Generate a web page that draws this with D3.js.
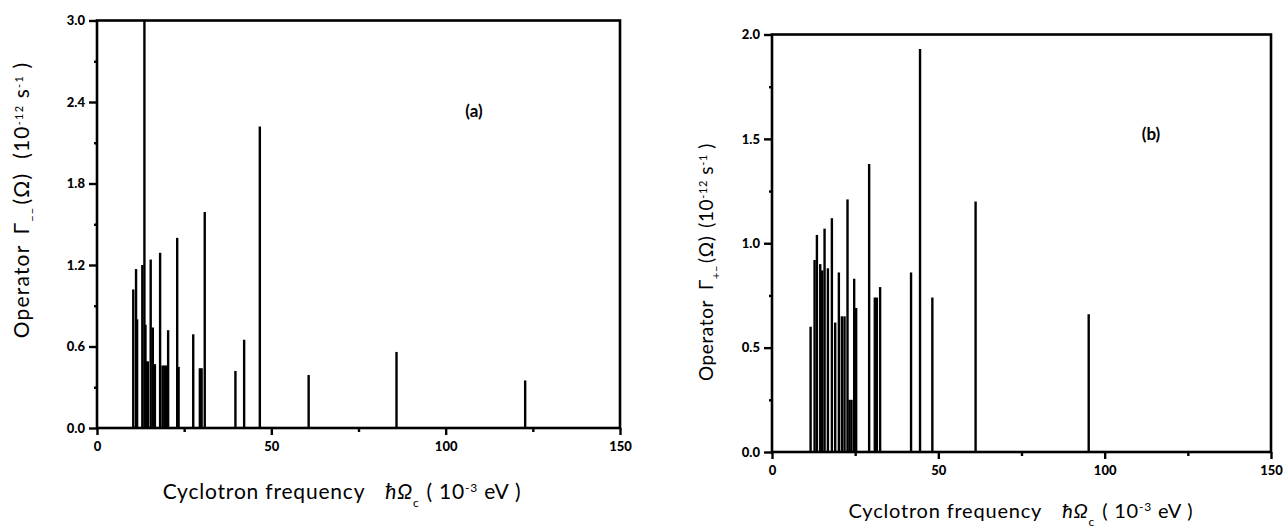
<!DOCTYPE html>
<html>
<head>
<meta charset="utf-8">
<script src="https://cdn.jsdelivr.net/npm/d3@7"></script>
<style>
  body { margin: 0; background: #fff; }
  svg { display: block; }
  text { font-family: Lato, "Open Sans", sans-serif; fill: #000; }
</style>
</head>
<body>
<div id="chart"></div>
<script>
// panel (a): Gamma_-- (Omega) peaks
const freqA = [10.4, 11.2, 11.5, 13.0, 13.6, 13.9, 14.3, 14.6, 15.4, 16.0, 16.6,
               18.1, 18.8, 19.3, 19.8, 20.4, 23.0, 23.4, 27.6, 29.5, 30.0, 30.9,
               39.7, 42.2, 46.7, 60.7, 85.9, 122.8];
const gammaA = [1.02, 1.17, 0.80, 1.20, 3.0, 0.76, 0.49, 0.49, 1.24, 0.74, 0.47,
                1.29, 0.46, 0.46, 0.46, 0.72, 1.40, 0.45, 0.69, 0.44, 0.44, 1.59,
                0.42, 0.65, 2.22, 0.39, 0.56, 0.35];

// panel (b): Gamma_+- (Omega) peaks
const freqB = [11.6, 12.8, 13.5, 14.5, 15.1, 15.8, 16.8, 18.0, 19.0, 20.1, 21.0,
               21.8, 22.7, 23.3, 23.9, 24.7, 25.3, 29.2, 30.9, 31.5, 32.5, 41.8,
               44.5, 48.2, 61.2, 95.2];
const gammaB = [0.60, 0.92, 1.04, 0.90, 0.87, 1.07, 0.88, 1.12, 0.62, 0.86, 0.65,
                0.65, 1.21, 0.25, 0.25, 0.83, 0.69, 1.38, 0.74, 0.74, 0.79, 0.86,
                1.93, 0.74, 1.20, 0.66];

const xTicks = [0, 50, 100, 150];
const xMinor = [25, 75, 125];
const yTicksA = [0, 0.6, 1.2, 1.8, 2.4, 3.0];
const yMinorA = [0.3, 0.9, 1.5, 2.1, 2.7];
const yTicksB = [0, 0.5, 1.0, 1.5, 2.0];
const yMinorB = [0.25, 0.75, 1.25, 1.75];

const width = 1285;
const height = 531;

const svg = d3.select('#chart')
    .append('svg')
    .attr('width', width)
    .attr('height', height);

function drawPanel(p) {
    const x = d3.scaleLinear().domain([0, 150]).range([p.left, p.right]);
    const y = d3.scaleLinear().domain([0, p.ymax]).range([p.bottom, p.top]);
    const g = svg.append('g');

    // peaks
    g.append('g')
        .selectAll('line')
        .data(p.freq)
        .join('line')
        .attr('x1', d => x(d))
        .attr('x2', d => x(d))
        .attr('y1', y(0))
        .attr('y2', (d, i) => y(p.gamma[i]))
        .attr('stroke', '#000')
        .attr('stroke-width', 2.4);

    // frame
    g.append('rect')
        .attr('x', p.left)
        .attr('y', p.top)
        .attr('width', p.right - p.left)
        .attr('height', p.bottom - p.top)
        .attr('fill', 'none')
        .attr('stroke', '#000')
        .attr('stroke-width', 2.6);

    // axes
    const ax = g.append('g')
        .attr('transform', 'translate(0,' + p.bottom + ')')
        .call(d3.axisBottom(x).tickValues(xTicks).tickSize(7).tickPadding(7).tickFormat(d3.format('d')));
    const axm = g.append('g')
        .attr('transform', 'translate(0,' + p.bottom + ')')
        .call(d3.axisBottom(x).tickValues(xMinor).tickSize(4).tickFormat(''));
    const ay = g.append('g')
        .attr('transform', 'translate(' + p.left + ',0)')
        .call(d3.axisLeft(y).tickValues(p.yTicks).tickSize(8).tickPadding(4).tickFormat(d3.format('.1f')));
    const aym = g.append('g')
        .attr('transform', 'translate(' + p.left + ',0)')
        .call(d3.axisLeft(y).tickValues(p.yMinor).tickSize(3).tickFormat(''));

    [ax, axm, ay, aym].forEach(a => {
        a.select('.domain').remove();
        a.selectAll('line').attr('stroke', '#000').attr('stroke-width', 2.4);
        a.selectAll('text')
            .style('font-family', 'Lato, sans-serif')
            .style('font-weight', '900')
            .style('font-size', '13px')
            .attr('fill', '#000');
    });

    // panel label
    g.append('text')
        .attr('x', p.labelX)
        .attr('y', p.labelY)
        .attr('text-anchor', 'middle')
        .style('font-size', '17px')
        .style('font-weight', 'bold')
        .text(p.label);

    // x title
    const xt = g.append('text')
        .attr('x', p.xTitleX)
        .attr('y', p.xTitleY)
        .attr('text-anchor', 'middle')
        .style('font-size', p.xTitleSize + 'px')
        .style('letter-spacing', '0.8px');
    xt.append('tspan').text('Cyclotron frequency');
    xt.append('tspan').attr('dx', 20).style('font-style', 'italic').text('ħΩ');
    xt.append('tspan').attr('baseline-shift', 'sub').style('font-size', '12px').text('c');
    xt.append('tspan').attr('dx', 7).text('( 10');
    xt.append('tspan').attr('baseline-shift', 'super').style('font-size', '12px').text('-3');
    xt.append('tspan').text(' eV )');

    // y title
    const yt = g.append('text')
        .attr('transform', 'translate(' + p.yTitleX + ',' + p.yTitleY + ') rotate(-90)')
        .attr('text-anchor', 'middle')
        .style('font-size', p.yTitleSize + 'px')
        .style('letter-spacing', p.yTitleSpacing + 'px');
    yt.append('tspan').text('Operator');
    yt.append('tspan').attr('dx', 10).text('Γ');
    yt.append('tspan').attr('baseline-shift', 'sub').style('font-size', '11px').text(p.sub);
    yt.append('tspan').attr('dx', 2).text('(Ω)');
    yt.append('tspan').attr('dx', p.yTitleGap).text('(10');
    yt.append('tspan').attr('baseline-shift', 'super').style('font-size', '11px').text('-12');
    yt.append('tspan').text(' s');
    yt.append('tspan').attr('baseline-shift', 'super').style('font-size', '11px').text('-1');
    yt.append('tspan').text(' )');
}

drawPanel({
    freq: freqA, gamma: gammaA, ymax: 3.0,
    left: 97, right: 620, top: 20.5, bottom: 428,
    yTicks: yTicksA, yMinor: yMinorA,
    label: '(a)', labelX: 474, labelY: 117,
    xTitleX: 342, xTitleY: 499, xTitleSize: 21,
    yTitleX: 29, yTitleY: 200, yTitleSize: 21, yTitleSpacing: 1.2, yTitleGap: 14, sub: '−−'
});

drawPanel({
    freq: freqB, gamma: gammaB, ymax: 2.0,
    left: 772, right: 1271, top: 34.5, bottom: 452,
    yTicks: yTicksB, yMinor: yMinorB,
    label: '(b)', labelX: 1151, labelY: 140,
    xTitleX: 1021, xTitleY: 518, xTitleSize: 20,
    yTitleX: 713, yTitleY: 262, yTitleSize: 19, yTitleSpacing: 0.6, yTitleGap: 8, sub: '+−'
});
</script>
</body>
</html>
